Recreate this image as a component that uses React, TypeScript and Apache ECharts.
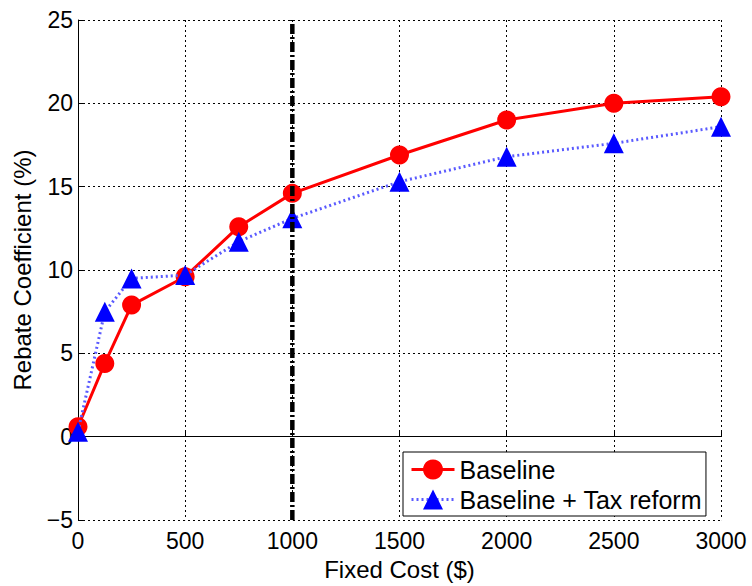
import React, { useEffect, useRef } from "react";
import * as echarts from "echarts";

const fixedCost = [0, 125, 250, 500, 750, 1000, 1500, 2000, 2500, 3000];
const baseline = [0.6, 4.4, 7.9, 9.6, 12.6, 14.6, 16.9, 19.0, 20.0, 20.4];
const taxReform = [0.3, 7.5, 9.5, 9.7, 11.7, 13.1, 15.3, 16.8, 17.6, 18.6];
const refLineX = 1000;
const yRange = [-5, 25];

const FONT = "'Liberation Sans', Arial, Helvetica, sans-serif";

export default function App() {
  const ref = useRef<HTMLDivElement>(null);
  useEffect(() => {
    if (!ref.current) return;
    const chart = echarts.init(ref.current, null, { renderer: "svg" });
    chart.setOption({
      animation: false,
      backgroundColor: "#fff",
      textStyle: { fontFamily: FONT },
      grid: { left: 78, right: 31, top: 20, bottom: 60, containLabel: false },
      xAxis: {
        type: "value",
        min: 0,
        max: 3000,
        interval: 500,
        name: "Fixed Cost ($)",
        nameLocation: "middle",
        nameGap: 35,
        nameTextStyle: { fontSize: 24, color: "#000", fontFamily: FONT },
        axisLine: { show: true, lineStyle: { color: "#000", width: 1 } },
        axisTick: { show: true, inside: true, length: 6, lineStyle: { color: "#000" } },
        axisLabel: {
          fontSize: 23,
          color: "#000",
          margin: 9,
          fontFamily: FONT,
          formatter: (v: number) => String(v),
        },
        splitLine: { show: true, lineStyle: { color: "#000", width: 1, type: [2, 3] } },
      },
      yAxis: {
        type: "value",
        min: yRange[0],
        max: yRange[1],
        interval: 5,
        name: "Rebate Coefficient (%)",
        nameLocation: "middle",
        nameGap: 44,
        nameTextStyle: { fontSize: 24, color: "#000", fontFamily: FONT },
        axisLine: { show: true, lineStyle: { color: "#000", width: 1 } },
        axisTick: { show: true, inside: true, length: 6, lineStyle: { color: "#000" } },
        axisLabel: {
          fontSize: 23,
          color: "#000",
          margin: 5,
          fontFamily: FONT,
          formatter: (v: number) => String(v).replace("-", "\u2212"),
        },
        splitLine: { show: true, lineStyle: { color: "#000", width: 1, type: [2, 3] } },
      },
      legend: {
        orient: "vertical",
        left: 403,
        top: 452,
        data: ["Baseline", "Baseline + Tax reform"],
        backgroundColor: "#fff",
        borderColor: "#000",
        borderWidth: 1,
        padding: [5, 4, 4, 7],
        itemWidth: 43,
        itemHeight: 25,
        itemGap: 5,
        lineStyle: { width: 3 },
        textStyle: { fontSize: 25, color: "#000", fontFamily: FONT },
      },
      series: [
        {
          name: "Baseline",
          type: "line",
          data: fixedCost.map((x, i) => [x, baseline[i]]),
          symbol: "circle",
          symbolSize: 19,
          lineStyle: { color: "#ff0000", width: 3 },
          itemStyle: { color: "#ff0000" },
          z: 3,
        },
        {
          name: "Baseline + Tax reform",
          type: "line",
          data: fixedCost.map((x, i) => [x, taxReform[i]]),
          symbol: "triangle",
          symbolSize: 20,
          lineStyle: { color: "#5a5aff", width: 3, type: [2, 3] },
          itemStyle: { color: "#0000ff" },
          z: 4,
        },
        {
          name: "ref",
          type: "line",
          data: [
            [refLineX, yRange[0]],
            [refLineX, yRange[1]],
          ],
          symbol: "none",
          lineStyle: { color: "#000", width: 4.5, type: [10, 3, 2, 3] },
          z: 5,
          silent: true,
        },
      ],
    });
    return () => chart.dispose();
  }, []);
  return (
    <div
      ref={ref}
      style={{ position: "absolute", left: 0, top: 0, width: 752, height: 586 }}
    />
  );
}
